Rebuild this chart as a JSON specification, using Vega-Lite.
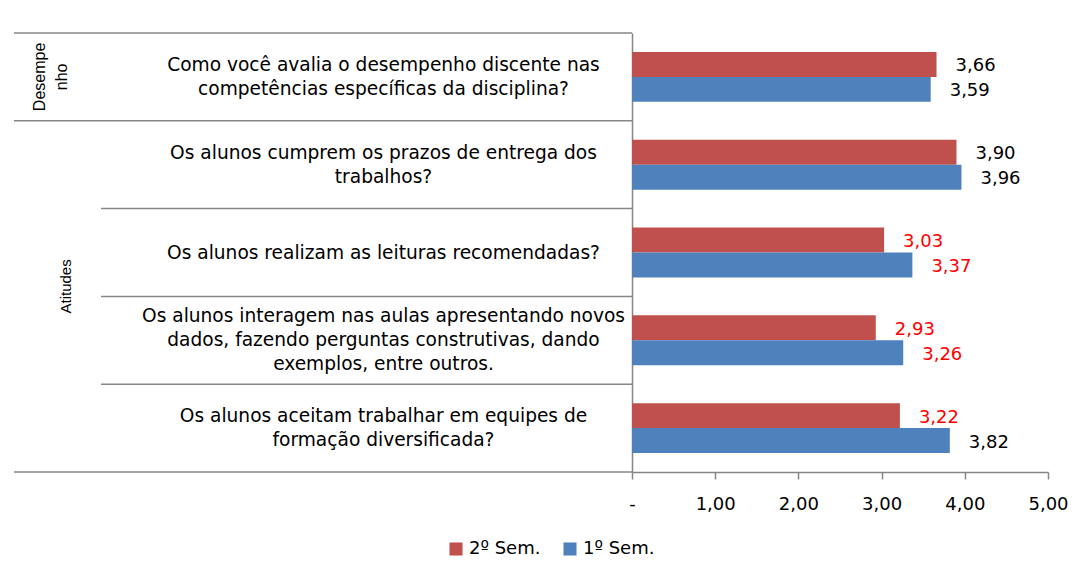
{
  "$schema": "https://vega.github.io/schema/vega-lite/v6.json",
  "padding": {"left": 13, "top": 32, "right": 0, "bottom": 0},
  "autosize": {"type": "pad"},
  "spacing": 0,
  "bounds": "flush",
  "config": {
    "view": {"stroke": null},
    "font": "DejaVu Sans",
    "locale": {"number": {"decimal": ",", "thousands": ".", "grouping": [3], "currency": ["", ""]}}
  },
  "datasets": {
    "perguntas": [
      {"q": "q1", "pergunta": "Como você avalia o desempenho discente nas|competências específicas da disciplina?"},
      {"q": "q2", "pergunta": "Os alunos cumprem os prazos de entrega dos|trabalhos?"},
      {"q": "q3", "pergunta": "Os alunos realizam as leituras recomendadas?"},
      {"q": "q4", "pergunta": "Os alunos interagem nas aulas apresentando novos|dados, fazendo perguntas construtivas, dando|exemplos, entre outros."},
      {"q": "q5", "pergunta": "Os alunos aceitam trabalhar em equipes de|formação diversificada?"}
    ],
    "grupos": [
      {"grupo": "Desempe|nho", "q": "q1"},
      {"grupo": "Atitudes", "q": "q3"}
    ],
    "valores": [
      {"q": "q1", "sem": "2º Sem.", "v": 3.66},
      {"q": "q1", "sem": "1º Sem.", "v": 3.59},
      {"q": "q2", "sem": "2º Sem.", "v": 3.90},
      {"q": "q2", "sem": "1º Sem.", "v": 3.96},
      {"q": "q3", "sem": "2º Sem.", "v": 3.03},
      {"q": "q3", "sem": "1º Sem.", "v": 3.37},
      {"q": "q4", "sem": "2º Sem.", "v": 2.93},
      {"q": "q4", "sem": "1º Sem.", "v": 3.26},
      {"q": "q5", "sem": "2º Sem.", "v": 3.22},
      {"q": "q5", "sem": "1º Sem.", "v": 3.82}
    ]
  },
  "hconcat": [
    {
      "width": 87,
      "height": 439,
      "layer": [
        {
          "data": {"name": "perguntas"},
          "transform": [{"filter": "datum.q == 'q1' || datum.q == 'q2'"}],
          "mark": {"type": "rule", "color": "#868686", "strokeWidth": 1.5},
          "encoding": {
            "y": {"field": "q", "type": "nominal", "bandPosition": 0, "axis": null,
                  "scale": {"domain": ["q1", "q2", "q3", "q4", "q5"], "paddingInner": 0, "paddingOuter": 0}}
          }
        },
        {
          "data": {"name": "perguntas"},
          "transform": [{"filter": "datum.q == 'q5'"}],
          "mark": {"type": "rule", "color": "#868686", "strokeWidth": 1.5},
          "encoding": {
            "y": {"field": "q", "type": "nominal", "bandPosition": 1, "axis": null}
          }
        },
        {
          "data": {"name": "grupos"},
          "transform": [{"filter": "datum.q == 'q1'"}],
          "mark": {"type": "text", "angle": 270, "font": "Liberation Sans", "fontSize": 16, "lineBreak": "|", "lineHeight": 22, "baseline": "middle", "align": "center", "dy": -18, "color": "#000000"},
          "encoding": {
            "y": {"field": "q", "type": "nominal", "bandPosition": 0.5, "axis": null},
            "text": {"field": "grupo", "type": "nominal"}
          }
        },
        {
          "data": {"name": "grupos"},
          "transform": [{"filter": "datum.q == 'q3'"}],
          "mark": {"type": "text", "angle": 270, "font": "Liberation Sans", "fontSize": 15, "baseline": "middle", "align": "center", "dy": 8, "dx": 10, "color": "#000000"},
          "encoding": {
            "y": {"field": "q", "type": "nominal", "bandPosition": 1, "axis": null},
            "text": {"field": "grupo", "type": "nominal"}
          }
        }
      ]
    },
    {
      "width": 531,
      "height": 439,
      "layer": [
        {
          "data": {"name": "perguntas"},
          "mark": {"type": "rule", "color": "#868686", "strokeWidth": 1.5},
          "encoding": {
            "y": {"field": "q", "type": "nominal", "bandPosition": 0, "axis": null,
                  "scale": {"domain": ["q1", "q2", "q3", "q4", "q5"], "paddingInner": 0, "paddingOuter": 0}}
          }
        },
        {
          "data": {"name": "perguntas"},
          "transform": [{"filter": "datum.q == 'q5'"}],
          "mark": {"type": "rule", "color": "#868686", "strokeWidth": 1.5},
          "encoding": {
            "y": {"field": "q", "type": "nominal", "bandPosition": 1, "axis": null}
          }
        },
        {
          "data": {"name": "perguntas"},
          "transform": [{"filter": "datum.q == 'q3'"}],
          "mark": {"type": "text", "fontSize": 18.6, "lineBreak": "|", "lineHeight": 24, "baseline": "middle", "align": "center", "dx": 17, "color": "#000000"},
          "encoding": {
            "y": {"field": "q", "type": "nominal", "bandPosition": 0.5, "axis": null},
            "text": {"field": "pergunta", "type": "nominal"}
          }
        },
        {
          "data": {"name": "perguntas"},
          "transform": [{"filter": "datum.q == 'q1' || datum.q == 'q2' || datum.q == 'q5'"}],
          "mark": {"type": "text", "fontSize": 18.6, "lineBreak": "|", "lineHeight": 24, "baseline": "middle", "align": "center", "dx": 17, "dy": -12, "color": "#000000"},
          "encoding": {
            "y": {"field": "q", "type": "nominal", "bandPosition": 0.5, "axis": null},
            "text": {"field": "pergunta", "type": "nominal"}
          }
        },
        {
          "data": {"name": "perguntas"},
          "transform": [{"filter": "datum.q == 'q4'"}],
          "mark": {"type": "text", "fontSize": 18.6, "lineBreak": "|", "lineHeight": 24, "baseline": "middle", "align": "center", "dx": 17, "dy": -24, "color": "#000000"},
          "encoding": {
            "y": {"field": "q", "type": "nominal", "bandPosition": 0.5, "axis": null},
            "text": {"field": "pergunta", "type": "nominal"}
          }
        }
      ]
    },
    {
      "width": 416,
      "height": 439,
      "data": {"name": "valores"},
      "encoding": {
        "y": {"field": "q", "type": "nominal",
              "scale": {"domain": ["q1", "q2", "q3", "q4", "q5"], "paddingInner": 0, "paddingOuter": 0},
              "axis": {"labels": false, "ticks": false, "title": null, "domainColor": "#868686", "domainWidth": 1.5}},
        "yOffset": {"field": "sem", "type": "nominal",
                    "scale": {"domain": ["2º Sem.", "1º Sem."], "paddingInner": 0, "paddingOuter": 0.76}},
        "x": {"field": "v", "type": "quantitative",
              "scale": {"domain": [0, 5], "nice": false},
              "axis": {"values": [0, 1, 2, 3, 4, 5], "title": null, "grid": false,
                       "labelExpr": "datum.value == 0 ? '-' : replace(format(datum.value, '.2f'), '.', ',')",
                       "tickSize": 7, "tickColor": "#868686", "tickWidth": 1.5,
                       "domainColor": "#868686", "domainWidth": 1.5,
                       "labelFontSize": 18, "labelColor": "#000000", "labelPadding": 16,
                       "labelFlush": false}}
      },
      "layer": [
        {
          "mark": {"type": "bar"},
          "encoding": {
            "color": {"field": "sem", "type": "nominal",
                      "scale": {"domain": ["2º Sem.", "1º Sem."], "range": ["#C0504D", "#4F81BD"]},
                      "legend": {"title": null, "orient": "none", "legendX": 433, "legendY": 507, "direction": "horizontal",
                                 "symbolType": "square", "symbolSize": 170, "symbolStrokeWidth": 0,
                                 "labelFontSize": 18, "labelColor": "#000000", "columnPadding": 20}}
          }
        },
        {
          "mark": {"type": "text", "align": "left", "baseline": "middle", "dx": 19, "dy": 2, "fontSize": 18},
          "encoding": {
            "text": {"field": "v", "type": "quantitative", "format": ".2f"},
            "color": {"condition": {"test": "datum.v < 3.5", "value": "#FF0000"}, "value": "#000000"}
          }
        }
      ]
    }
  ]
}
